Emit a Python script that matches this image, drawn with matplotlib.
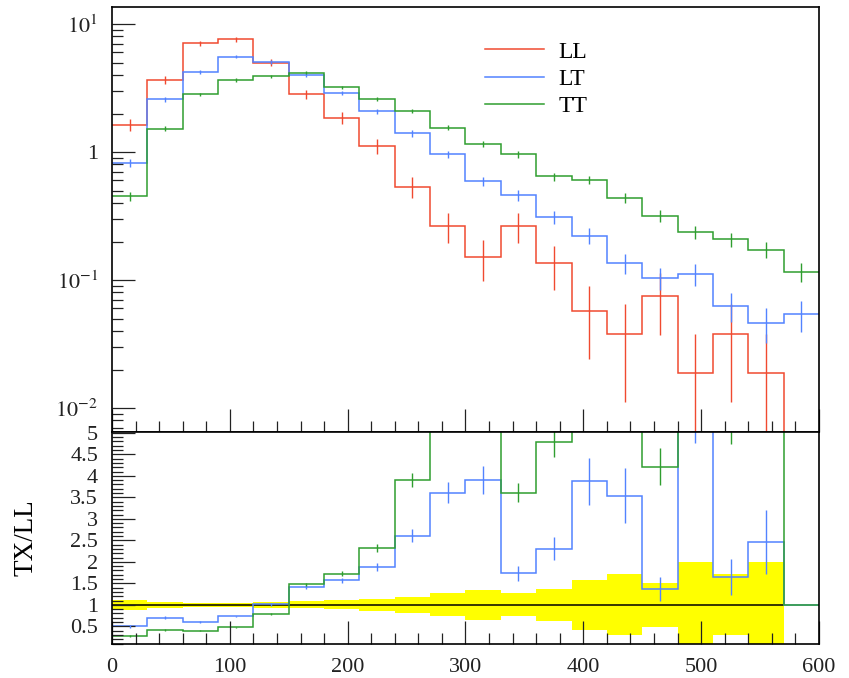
import numpy as np
import matplotlib.pyplot as plt
from matplotlib.lines import Line2D
from matplotlib.ticker import (FixedLocator, FixedFormatter, LogLocator,
                               NullFormatter, MultipleLocator, FuncFormatter)

plt.rcParams['font.family'] = ['Liberation Serif', 'DejaVu Serif']
plt.rcParams['mathtext.fontset'] = 'stix'

# binning: 20 bins of width 30 from 0 to 600
edges = np.arange(0, 601, 30)
centers = 0.5 * (edges[:-1] + edges[1:])

# LL polarisation
ll = np.array([1.63, 3.65, 7.07, 7.6, 5.0, 2.82, 1.85, 1.11, 0.536, 0.266,
               0.152, 0.266, 0.135, 0.0573, 0.0381, 0.0754, 0.0189, 0.0381,
               0.0189, 0.0])
ll_err = np.array([0.18, 0.26, 0.37, 0.38, 0.31, 0.23, 0.19, 0.145, 0.10, 0.071,
                   0.054, 0.071, 0.051, 0.033, 0.027, 0.038, 0.0189, 0.027,
                   0.0189, 0.0])

# LT polarisation
lt = np.array([0.825, 2.58, 4.24, 5.55, 5.05, 4.02, 2.91, 2.09, 1.40, 0.96,
               0.593, 0.461, 0.312, 0.222, 0.135, 0.104, 0.112, 0.063,
               0.0464, 0.0542])
lt_err = np.array([0.060, 0.105, 0.135, 0.155, 0.147, 0.131, 0.112, 0.095, 0.078,
                   0.064, 0.050, 0.045, 0.037, 0.031, 0.024, 0.021, 0.022,
                   0.016, 0.014, 0.015])

# TT polarisation
tt = np.array([0.453, 1.52, 2.82, 3.65, 3.92, 4.16, 3.2, 2.58, 2.09, 1.55,
               1.15, 0.96, 0.645, 0.604, 0.44, 0.318, 0.236, 0.208, 0.173,
               0.116])
tt_err = np.array([0.039, 0.072, 0.098, 0.111, 0.115, 0.119, 0.104, 0.094, 0.084,
                   0.073, 0.063, 0.057, 0.047, 0.045, 0.039, 0.033, 0.028,
                   0.027, 0.024, 0.020])

labels = ['LL', 'LT', 'TT']
colors = ['#f04a30', '#5283ff', '#2f9e2f']

fig = plt.figure(figsize=(8.49, 6.78), dpi=100)
ax = fig.add_axes([0.1319, 0.3628, 0.8327, 0.6269])
rax = fig.add_axes([0.1319, 0.0501, 0.8327, 0.3127], sharex=ax)

# ---- main panel
ax.set_yscale('log', nonpositive='clip')
for vals, errs, c in zip([ll, lt, tt], [ll_err, lt_err, tt_err], colors):
    ax.stairs(vals, edges, baseline=None, color=c, lw=1.1)
    ok = vals > 0
    ax.errorbar(centers[ok], vals[ok], yerr=errs[ok], fmt='none',
                ecolor=c, elinewidth=1.0)

ax.set_xlim(0, 600)
ax.set_ylim(0.0065, 13.6)
ax.yaxis.set_major_locator(FixedLocator([0.01, 0.1, 1, 10]))
ax.yaxis.set_major_formatter(FixedFormatter([r'$10^{-2}$', r'$10^{-1}$', '1', r'$10^{1}$']))
ax.yaxis.set_minor_locator(LogLocator(base=10, subs=np.arange(2, 10), numticks=20))
ax.yaxis.set_minor_formatter(NullFormatter())

handles = [Line2D([], [], color=c, lw=1.1) for c in colors]
ax.legend(handles, labels, loc='upper left', bbox_to_anchor=(0.5276, 0.92),
          frameon=False, fontsize=17, handlelength=2.5, handletextpad=0.6,
          labelspacing=0.25, borderpad=0, borderaxespad=0)

# ---- ratio panel
k = int((ll > 0).sum())
safe = np.where(ll > 0, ll, 1.0)
rel = np.where(ll > 0, ll_err / safe, 0.0)

rax.stairs(1 + rel[:k], edges[:k + 1], baseline=1 - rel[:k], fill=True,
           color='#ffff00', lw=0)
rax.stairs(np.ones(k), edges[:k + 1], baseline=None, color='black', lw=1.1)

for vals, errs, c in zip([lt, tt], [lt_err, tt_err], colors[1:]):
    ratio = np.where(ll > 0, vals / safe, 1.0)
    rerr = np.where(ll > 0, errs / safe, 0.0)
    rax.stairs(ratio, edges, baseline=None, color=c, lw=1.1)
    ok = ll > 0
    rax.errorbar(centers[ok], ratio[ok], yerr=rerr[ok], fmt='none',
                 ecolor=c, elinewidth=1.0)

rax.set_ylim(0.09, 5.02)
rax.yaxis.set_major_locator(MultipleLocator(0.5))
rax.yaxis.set_minor_locator(MultipleLocator(0.1))
rax.yaxis.set_major_formatter(FuncFormatter(lambda v, p: f'{v:g}'))
rax.xaxis.set_major_locator(MultipleLocator(100))
rax.xaxis.set_minor_locator(MultipleLocator(20))
rax.set_ylabel('TX/LL', fontsize=19.5)
rax.yaxis.set_label_coords(-0.104, 0.5)

for a in (ax, rax):
    a.tick_params(which='both', direction='in', top=False, right=False,
                  width=0.9, colors='#222222')
    a.tick_params(which='major', length=16.5, labelsize=16, pad=10)
    a.tick_params(which='minor', length=7.7)
    for s in a.spines.values():
        s.set_linewidth(1.2)
ax.tick_params(labelbottom=False)

fig.savefig('out.png', dpi=100)
